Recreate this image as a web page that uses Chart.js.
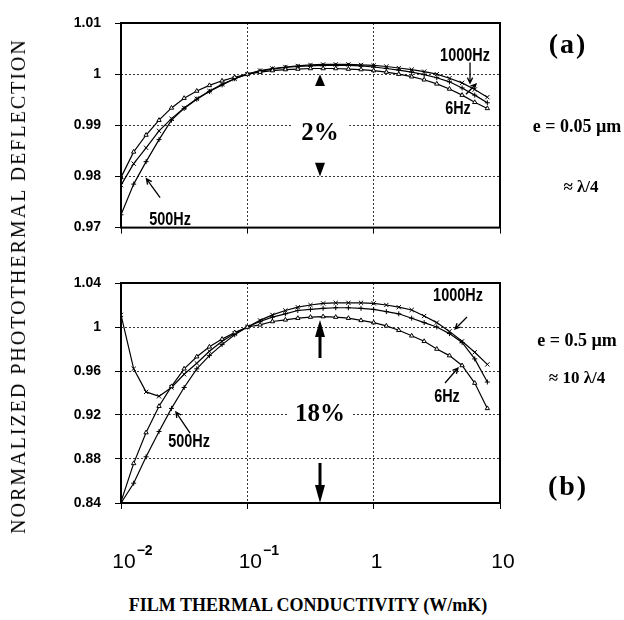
<!DOCTYPE html>
<html>
<head>
  <meta charset="UTF-8">
  <title>Photothermal deflection vs film conductivity</title>
  <style>
    body {
      margin: 0;
      background: #fff;
      overflow: hidden;
    }

    #wrap {
      position: relative;
      width: 624px;
      height: 620px;
      background: #fff;
    }

    canvas {
      position: absolute;
      left: 0;
    }

    #chartA { top: 0; }
    #chartB { top: 250px; }

    .lbl {
      position: absolute;
      transform: translate(-50%, -50%);
      white-space: nowrap;
      color: #000;
      line-height: 1;
    }

    /* serif annotations on the right and the percentages */
    .serif {
      font-family: "Liberation Serif", "Times New Roman", serif;
      font-weight: bold;
    }

    /* curve names, squeezed to a condensed look */
    .hz {
      font-family: "Liberation Sans", Arial, sans-serif;
      font-weight: bold;
      font-size: 19px;
      transform: translate(-50%, -50%) scaleX(0.76);
    }

    .pct {
      background: #fff;
      font-size: 25px;
    }

    .ytitle {
      transform: translate(-50%, -50%) rotate(-90deg);
      font-family: "Liberation Serif", "Times New Roman", serif;
      font-size: 20px;
      letter-spacing: 2px;
    }

    .xtitle {
      font-family: "Liberation Serif", "Times New Roman", serif;
      font-weight: bold;
      font-size: 18px;
    }
  </style>
</head>
<body>
  <div id="wrap">
    <canvas id="chartA" width="624" height="250"></canvas>
    <canvas id="chartB" width="624" height="330"></canvas>

    <!-- panel (a) -->
    <div class="lbl serif" style="left:568px; top:44px; font-size:28px; letter-spacing:2px;">(a)</div>
    <div class="lbl serif" style="left:577px; top:126px; font-size:18px;">e = 0.05 µm</div>
    <div class="lbl serif" style="left:581px; top:186px; font-size:17px;">≈ λ/4</div>
    <div class="lbl serif pct" style="left:320px; top:131px; padding:0 10px;">2%</div>
    <div class="lbl hz" style="left:465px; top:54px;">1000Hz</div>
    <div class="lbl hz" style="left:458px; top:107px;">6Hz</div>
    <div class="lbl hz" style="left:170px; top:218px;">500Hz</div>

    <!-- panel (b) -->
    <div class="lbl serif" style="left:568px; top:486px; font-size:28px; letter-spacing:2px;">(b)</div>
    <div class="lbl serif" style="left:577px; top:340px; font-size:18px;">e = 0.5 µm</div>
    <div class="lbl serif" style="left:577px; top:377px; font-size:17px;">≈ 10 λ/4</div>
    <div class="lbl serif pct" style="left:320px; top:412px; padding:0 8px;">18%</div>
    <div class="lbl hz" style="left:458px; top:294px;">1000Hz</div>
    <div class="lbl hz" style="left:447px; top:395px;">6Hz</div>
    <div class="lbl hz" style="left:189px; top:440px;">500Hz</div>

    <!-- axis titles -->
    <div class="lbl ytitle" style="left:18px; top:286px;">NORMALIZED PHOTOTHERMAL DEFLECTION</div>
    <div class="lbl xtitle" style="left:308px; top:605px;">FILM THERMAL CONDUCTIVITY (W/mK)</div>
  </div>

  <script src="https://cdn.jsdelivr.net/npm/chart.js"></script>
  <script>
    // film thermal conductivity (W/mK), ten points per decade
    var conductivity = [
      0.0100, 0.0126, 0.0158, 0.0200, 0.0251, 0.0316, 0.0398, 0.0501, 0.0631, 0.0794,
      0.100, 0.126, 0.158, 0.200, 0.251, 0.316, 0.398, 0.501, 0.631, 0.794,
      1.00, 1.26, 1.58, 2.00, 2.51, 3.16, 3.98, 5.01, 6.31, 7.94
    ];

    // (a) e = 0.05 um
    var a6Hz = [
      0.9798, 0.9848, 0.9881, 0.9910, 0.9934, 0.9953, 0.9967, 0.9978, 0.9987, 0.9994,
      1.0000, 1.0004, 1.0007, 1.0009, 1.0010, 1.0011, 1.0011, 1.0011, 1.0010, 1.0009,
      1.0007, 1.0004, 1.0000, 0.9995, 0.9989, 0.9981, 0.9971, 0.9959, 0.9945, 0.9933
    ];
    var a500Hz = [
      0.9725, 0.9785, 0.9829, 0.9872, 0.9910, 0.9933, 0.9951, 0.9966, 0.9979, 0.9991,
      1.0000, 1.0006, 1.0010, 1.0013, 1.0015, 1.0016, 1.0017, 1.0017, 1.0017, 1.0016,
      1.0014, 1.0011, 1.0008, 1.0004, 0.9999, 0.9993, 0.9985, 0.9973, 0.9959, 0.9944
    ];
    var a1000Hz = [
      0.9783, 0.9825, 0.9856, 0.9889, 0.9913, 0.9934, 0.9952, 0.9967, 0.9980, 0.9991,
      1.0000, 1.0007, 1.0011, 1.0014, 1.0016, 1.0018, 1.0019, 1.0019, 1.0019, 1.0018,
      1.0017, 1.0015, 1.0012, 1.0009, 1.0005, 1.0000, 0.9992, 0.9983, 0.9970, 0.9955
    ];

    // (b) e = 0.5 um
    var b6Hz = [
      0.841, 0.876, 0.904, 0.928, 0.946, 0.962, 0.973, 0.982, 0.989, 0.995,
      1.000, 1.002, 1.005, 1.0065, 1.008, 1.009, 1.0095, 1.009, 1.008, 1.006,
      1.004, 1.001, 0.997, 0.992, 0.987, 0.980, 0.974, 0.965, 0.949, 0.926
    ];
    var b500Hz = [
      0.840, 0.858, 0.882, 0.905, 0.926, 0.945, 0.962, 0.974, 0.984, 0.993,
      1.000, 1.005, 1.009, 1.012, 1.015, 1.016, 1.017, 1.0175, 1.0175, 1.017,
      1.016, 1.014, 1.012, 1.008, 1.004, 1.000, 0.994, 0.986, 0.971, 0.950
    ];
    var b1000Hz = [
      1.011, 0.962, 0.941, 0.937, 0.945, 0.957, 0.967, 0.978, 0.987, 0.994,
      1.000, 1.006, 1.011, 1.015, 1.018, 1.020, 1.0215, 1.022, 1.022, 1.022,
      1.0215, 1.020, 1.018, 1.0155, 1.010, 1.004, 0.996, 0.987, 0.977, 0.966
    ];

    // axis ticks
    var xTicks = [0.01, 0.1, 1, 10];
    var xTickBase = ['10', '10', '1', '10'];
    var xTickExp = ['\u22122', '\u22121', '', ''];
    var yTicksA = [0.97, 0.98, 0.99, 1, 1.01];
    var yLabelsA = ['0.97', '0.98', '0.99', '1', '1.01'];
    var yTicksB = [0.84, 0.88, 0.92, 0.96, 1, 1.04];
    var yLabelsB = ['0.84', '0.88', '0.92', '0.96', '1', '1.04'];

    var sansFont = '"Liberation Sans", Arial, sans-serif';

    function serie(label, values, style, radius) {
      return {
        label: label,
        data: conductivity.map(function (x, i) { return { x: x, y: values[i] }; }),
        borderColor: '#000',
        backgroundColor: '#fff',
        borderWidth: 1.2,
        pointStyle: style,
        pointRadius: radius,
        pointBorderWidth: 1,
        pointBorderColor: '#000',
        pointBackgroundColor: '#fff',
        tension: 0,
        fill: false
      };
    }

    function drawArrow(ctx, x1, y1, x2, y2, a) {
      var ang = Math.atan2(y2 - y1, x2 - x1);
      var cos = Math.cos(ang), sin = Math.sin(ang);
      ctx.strokeStyle = '#000';
      ctx.fillStyle = '#000';
      if (a.type === 'open') {
        ctx.lineWidth = 1.3;
        ctx.beginPath();
        ctx.moveTo(x1, y1);
        ctx.lineTo(x2, y2);
        var h = 6, w = 0.45;
        ctx.moveTo(x2 - h * Math.cos(ang - w), y2 - h * Math.sin(ang - w));
        ctx.lineTo(x2, y2);
        ctx.lineTo(x2 - h * Math.cos(ang + w), y2 - h * Math.sin(ang + w));
        ctx.stroke();
        return;
      }
      var len = Math.hypot(x2 - x1, y2 - y1);
      var head = a.type === 'head' ? len : a.head;
      var bx = x2 - head * cos, by = y2 - head * sin;
      if (a.type === 'solid') {
        ctx.lineWidth = a.lw;
        ctx.beginPath();
        ctx.moveTo(x1, y1);
        ctx.lineTo(bx, by);
        ctx.stroke();
      }
      ctx.beginPath();
      ctx.moveTo(x2, y2);
      ctx.lineTo(bx - a.hw * sin, by + a.hw * cos);
      ctx.lineTo(bx + a.hw * sin, by - a.hw * cos);
      ctx.closePath();
      ctx.fill();
    }

    // frame, arrows and the 10^n tick labels
    function decor(arrows, withXLabels) {
      return {
        id: 'decor',
        afterDraw: function (chart) {
          var ctx = chart.ctx, ca = chart.chartArea;
          var xs = chart.scales.x, ys = chart.scales.y;
          ctx.save();
          ctx.strokeStyle = '#000';
          ctx.lineWidth = 2;
          ctx.strokeRect(ca.left, ca.top, ca.right - ca.left, ca.bottom - ca.top);

          arrows.forEach(function (a) {
            drawArrow(ctx,
              xs.getPixelForValue(a.from[0]), ys.getPixelForValue(a.from[1]),
              xs.getPixelForValue(a.to[0]), ys.getPixelForValue(a.to[1]), a);
          });

          if (withXLabels) {
            ctx.fillStyle = '#000';
            ctx.textBaseline = 'alphabetic';
            var base = ca.bottom + 65;
            xTicks.forEach(function (v, i) {
              var px = xs.getPixelForValue(v) + 3;
              ctx.font = '21px ' + sansFont;
              ctx.textAlign = 'center';
              ctx.fillText(xTickBase[i], px, base);
              if (xTickExp[i]) {
                var w = ctx.measureText(xTickBase[i]).width;
                ctx.font = 'bold 14px ' + sansFont;
                ctx.textAlign = 'left';
                ctx.fillText(xTickExp[i], px + w / 2 + 1, base - 13);
              }
            });
          }
          ctx.restore();
        }
      };
    }

    function makeChart(id, datasets, yMin, yMax, yTicks, yLabels, padTop, padBottom, arrows, withXLabels) {
      var ctx = document.getElementById(id).getContext('2d');
      return new Chart(ctx, {
        type: 'line',
        data: { datasets: datasets },
        options: {
          responsive: false,
          animation: false,
          layout: { padding: { left: 0, right: 124, top: padTop, bottom: padBottom } },
          plugins: {
            legend: { display: false },
            tooltip: { enabled: false }
          },
          scales: {
            x: {
              type: 'logarithmic',
              min: 0.01,
              max: 10,
              afterBuildTicks: function (axis) {
                axis.ticks = xTicks.map(function (v) { return { value: v }; });
              },
              afterFit: function (axis) { axis.height = 0; },
              ticks: { display: false },
              grid: { color: '#333', lineWidth: 1, tickLength: 6, tickColor: '#000', tickBorderDash: [] },
              border: { display: false, dash: [2, 2] }
            },
            y: {
              type: 'linear',
              min: yMin,
              max: yMax,
              afterBuildTicks: function (axis) {
                axis.ticks = yTicks.map(function (v) { return { value: v }; });
              },
              afterFit: function (axis) { axis.width = 121; },
              ticks: {
                callback: function (v, i) { return yLabels[i]; },
                color: '#000',
                padding: 14,
                font: { family: sansFont, size: 14, weight: 'bold' }
              },
              grid: { color: '#333', lineWidth: 1, tickLength: 6, tickColor: '#000', tickBorderDash: [] },
              border: { display: false, dash: [2, 2] }
            }
          }
        },
        plugins: [decor(arrows, withXLabels)]
      });
    }

    makeChart('chartA', [
      serie('6Hz', a6Hz, 'triangle', 2.5),
      serie('500Hz', a500Hz, 'cross', 2.5),
      serie('1000Hz', a1000Hz, 'crossRot', 3)
    ], 0.97, 1.01, yTicksA, yLabelsA, 23, 9, [
      { from: [5.79, 1.0023], to: [5.79, 0.99826], type: 'open' },
      { from: [5.38, 0.99606], to: [6.46, 0.99807], type: 'open' },
      { from: [0.0204, 0.97587], to: [0.0159, 0.97954], type: 'open' },
      { from: [0.376, 0.9977], to: [0.376, 1.0], type: 'head', hw: 5 },
      { from: [0.376, 0.98266], to: [0.376, 0.98], type: 'head', hw: 5 }
    ], false);

    makeChart('chartB', [
      serie('6Hz', b6Hz, 'triangle', 2.5),
      serie('500Hz', b500Hz, 'cross', 2.5),
      serie('1000Hz', b1000Hz, 'crossRot', 3)
    ], 0.84, 1.04, yTicksB, yLabelsB, 33, 77, [
      { from: [5.48, 1.0091], to: [4.41, 0.99818], type: 'open' },
      { from: [3.67, 0.9491], to: [4.65, 0.9627], type: 'open' },
      { from: [0.0352, 0.9036], to: [0.0272, 0.9227], type: 'open' },
      { from: [0.376, 0.9718], to: [0.376, 1.0064], type: 'solid', lw: 3, head: 17, hw: 5 },
      { from: [0.376, 0.8764], to: [0.376, 0.84], type: 'solid', lw: 3, head: 18, hw: 5 }
    ], true);
  </script>
</body>
</html>
